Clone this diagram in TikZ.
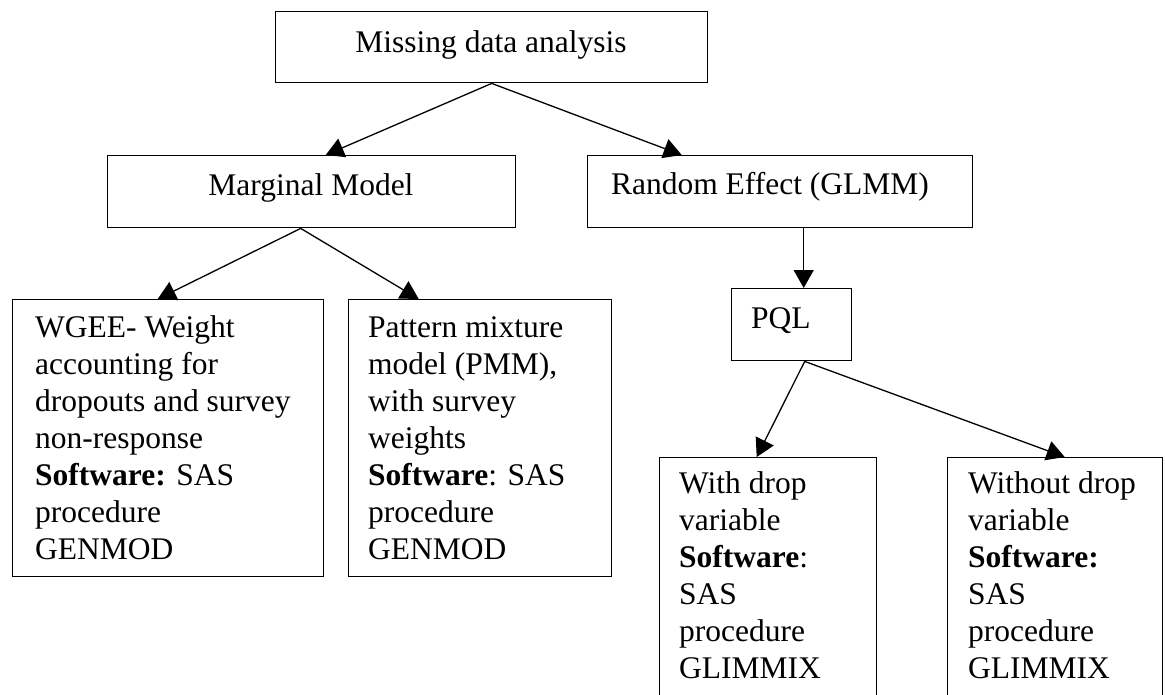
\documentclass[tikz,border=0pt]{standalone}
\usepackage{fontspec}
\setmainfont{Liberation Serif}
\usetikzlibrary{arrows.meta}
\begin{document}
\begin{tikzpicture}[x=1pt,y=-1pt,
  box/.style={draw, line width=1.4pt, inner sep=0pt, anchor=north west},
  boxtext/.style={inner sep=0pt, font=\fontsize{31.5}{37}\selectfont},
  para/.style={boxtext, align=left, anchor=base west},
  arr/.style={line width=1.3pt, -{Triangle[length=18pt,width=20pt]}}]
\useasboundingbox (0,0) rectangle (1165,694);
\clip (0,0) rectangle (1165,694);

% boxes
\node[box, minimum width=432pt, minimum height=71pt] (top) at (275,11) {};
\node[box, minimum width=408pt, minimum height=72pt] (marg) at (107,155) {};
\node[box, minimum width=385pt, minimum height=72pt] (rand) at (587,155) {};
\node[box, minimum width=120pt, minimum height=72pt] (pql) at (731,288) {};
\node[box, minimum width=311pt, minimum height=277pt] (wgee) at (12,299) {};
\node[box, minimum width=263pt, minimum height=277pt] (pmm) at (348,299) {};
\node[box, minimum width=217pt, minimum height=280pt] (with) at (659,457) {};
\node[box, minimum width=215pt, minimum height=280pt] (without) at (947,457) {};

% texts (multi-line blocks are placed by the baseline of their last line)
\node[boxtext, anchor=base] (topT) at (491,52) {Missing data analysis};
\node[boxtext, anchor=base] (margT) at (311,195) {Marginal Model};
\node[boxtext, anchor=base] (randT) at (770,194) {Random Effect (GLMM)};
\node[boxtext, anchor=base west] (pqlT) at (751,328) {PQL};
\node[para] (wgeeT) at (35,559) {WGEE- Weight\\accounting for\\dropouts and survey\\non-response\\\textbf{Software:} SAS\\procedure\\GENMOD};
\node[para] (pmmT) at (368,559) {Pattern mixture\\model (PMM),\\with survey\\weights\\\textbf{Software}: SAS\\procedure\\GENMOD};
\node[para] (withT) at (679,678) {With drop\\variable\\\textbf{Software}:\\SAS\\procedure\\GLIMMIX};
\node[para] (withoutT) at (968,678) {Without drop\\variable\\\textbf{Software:}\\SAS\\procedure\\GLIMMIX};

% connectors
\draw[arr] (top.south) -- ([xshift=14pt]marg.north);
\draw[arr] (top.south) -- ([xshift=-98.5pt]rand.north);
\draw[arr] ([xshift=-11pt]marg.south) -- ([xshift=-10.5pt]wgee.north);
\draw[arr] ([xshift=-11pt]marg.south) -- ([xshift=-61.5pt]pmm.north);
\draw[arr] ([xshift=12pt]pql.north |- rand.south) -- ([xshift=12pt]pql.north);
\draw[arr] ([xshift=13pt]pql.south) -- ([xshift=-11.5pt]with.north);
\draw[arr] ([xshift=13pt]pql.south) -- ([xshift=9.5pt]without.north);
\end{tikzpicture}
\end{document}
